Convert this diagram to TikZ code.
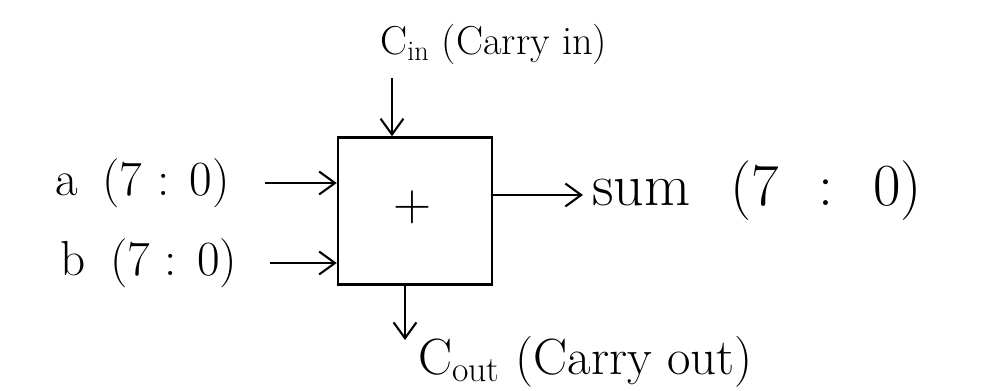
\documentclass[tikz,border=0pt]{standalone}
\usetikzlibrary{arrows.meta}
\tikzset{
  sig/.style={font=\fontsize{28}{32}\selectfont, inner sep=0pt},
  wire/.style={line width=1.2pt, -{Straight Barb[length=9pt,width=13pt]}},
}
\begin{document}
\begin{tikzpicture}[x=0.02cm,y=-0.02cm]
\useasboundingbox (0,0) rectangle (992,391);
% the adder block
\node[draw, line width=1.4pt, minimum width=3.08cm, minimum height=2.94cm] (adder) at (415,211) {};
\node[font=\fontsize{30}{34}\selectfont, inner sep=0pt] (plus) at (412,207) {+};
% signal names
\node[sig, anchor=west, font=\fontsize{23}{27}\selectfont] (cin) at (380,44) {C\textsubscript{in} (Carry in)};
\node[sig, anchor=west] (a) at (55,183) {a\enspace(7 : 0)};
\node[sig, anchor=west] (b) at (60,263) {b\enspace(7 : 0)};
\node[sig, anchor=west, font=\fontsize{34}{38}\selectfont] (sum) at (592,191) {sum\enspace\,(7\enspace\,:\enspace\,0)};
\node[sig, anchor=west, font=\fontsize{29}{33}\selectfont] (cout) at (418,362) {C\textsubscript{out} (Carry out)};
% free ends of the wires
\coordinate (cintop) at (392,78);
\coordinate (astart) at (265,183);
\coordinate (bstart) at (270,263);
\coordinate (sumend) at (583,195);
\coordinate (coutend) at (405,340);
% wires
\draw[wire] (cintop) -- (cintop |- adder.north);
\draw[wire] (astart) -- (astart -| adder.west);
\draw[wire] (bstart) -- (bstart -| adder.west);
\draw[wire] (sumend -| adder.east) -- (sumend);
\draw[wire] (coutend |- adder.south) -- (coutend);
\end{tikzpicture}
\end{document}
